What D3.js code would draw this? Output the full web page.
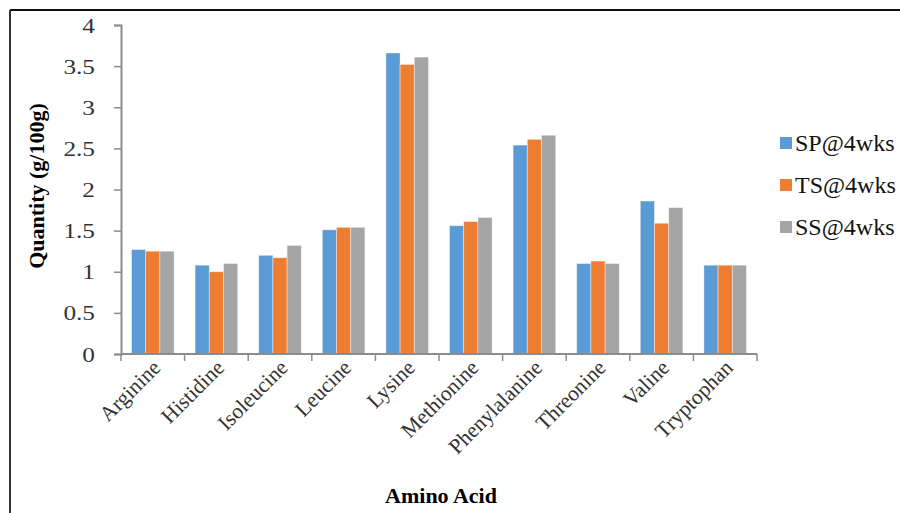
<!DOCTYPE html>
<html>
<head>
<meta charset="utf-8">
<script src="https://cdn.jsdelivr.net/npm/d3@7/dist/d3.min.js"></script>
<style>
  html, body { margin: 0; padding: 0; background: #fff; }
  svg { display: block; }
</style>
</head>
<body>
<svg id="chart" width="900" height="513"></svg>
<script>
// Amino acid content of the three samples, g/100g
const aminoAcids = ["Arginine", "Histidine", "Isoleucine", "Leucine", "Lysine",
                    "Methionine", "Phenylalanine", "Threonine", "Valine", "Tryptophan"];
const seriesNames = ["SP@4wks", "TS@4wks", "SS@4wks"];
const spValues = [1.27, 1.08, 1.20, 1.51, 3.66, 1.56, 2.54, 1.10, 1.86, 1.08];
const tsValues = [1.25, 1.00, 1.17, 1.54, 3.52, 1.61, 2.61, 1.13, 1.59, 1.08];
const ssValues = [1.25, 1.10, 1.32, 1.54, 3.61, 1.66, 2.66, 1.10, 1.78, 1.08];
const yTicks = [0, 0.5, 1, 1.5, 2, 2.5, 3, 3.5, 4];
const seriesColors = ["#5B9BD5", "#ED7D31", "#A5A5A5"];

const FONT = "'Liberation Serif', 'Times New Roman', serif";

const seriesValues = [spValues, tsValues, ssValues];
const rows = aminoAcids.map((name, i) => ({
  name,
  values: seriesNames.map((s, k) => ({ series: s, value: seriesValues[k][i], k }))
}));

const svg = d3.select("#chart");

// outer frame (top and left edges)
svg.append("line").attr("x1", 10).attr("x2", 900).attr("y1", 10).attr("y2", 10)
  .attr("stroke", "#111").attr("stroke-width", 2);
svg.append("line").attr("x1", 10).attr("x2", 10).attr("y1", 10).attr("y2", 513)
  .attr("stroke", "#333").attr("stroke-width", 2);

const plot = { left: 121, right: 757, top: 25, bottom: 354 };

const x = d3.scaleBand().domain(aminoAcids).range([plot.left, plot.right]).padding(0);
const xInner = d3.scaleBand().domain(seriesNames)
  .range([x.bandwidth() * 0.165, x.bandwidth() * 0.835]).padding(0);
const y = d3.scaleLinear().domain([0, 4]).range([plot.bottom, plot.top]);

// bars
const groups = svg.append("g").selectAll("g").data(rows).join("g")
  .attr("transform", d => `translate(${x(d.name)},0)`);
groups.selectAll("rect").data(d => d.values).join("rect")
  .attr("x", d => xInner(d.series))
  .attr("y", d => y(d.value))
  .attr("width", xInner.bandwidth())
  .attr("height", d => y(0) - y(d.value))
  .attr("fill", d => seriesColors[d.k])
  .attr("stroke", "#ffffff")
  .attr("stroke-opacity", 0.5)
  .attr("stroke-width", 0.8);

// y axis; tick numbers are set slightly wide
const yAxis = svg.append("g")
  .attr("transform", `translate(${plot.left},0)`)
  .call(d3.axisLeft(y).tickValues(yTicks).tickSize(7).tickPadding(19)
    .tickFormat(d3.format("")));
yAxis.select(".domain").attr("stroke", "#8c8c8c").attr("stroke-width", 2);
yAxis.selectAll(".tick line").attr("stroke", "#8c8c8c").attr("stroke-width", 1.5);
yAxis.selectAll(".tick text")
  .attr("x", 0)
  .attr("transform", "translate(-26,0) scale(1.15,1)")
  .style("font-family", FONT)
  .style("font-size", "22px").attr("fill", "#333");

// x axis with ticks on band edges
const xAxisG = svg.append("g").attr("transform", `translate(0,${plot.bottom})`);
xAxisG.append("line").attr("x1", plot.left).attr("x2", plot.right)
  .attr("y1", 0).attr("y2", 0).attr("stroke", "#8c8c8c").attr("stroke-width", 2);
const edges = aminoAcids.map(a => x(a)).concat([plot.right]);
xAxisG.selectAll("line.edge").data(edges).join("line").attr("class", "edge")
  .attr("x1", d => d).attr("x2", d => d).attr("y1", 0).attr("y2", 7)
  .attr("stroke", "#8c8c8c").attr("stroke-width", 1.5);
xAxisG.selectAll("text").data(aminoAcids).join("text")
  .attr("transform", d => `translate(${x(d) + x.bandwidth() / 2 + 9},15) rotate(-45)`)
  .attr("text-anchor", "end")
  .style("font-family", FONT)
  .style("font-size", "21.5px")
  .attr("fill", "#333")
  .text(d => d);

// axis titles
svg.append("text")
  .attr("transform", "translate(44,186) rotate(-90)")
  .attr("text-anchor", "middle")
  .style("font-family", FONT)
  .style("font-size", "22px").style("font-weight", "bold").attr("fill", "#000")
  .text("Quantity (g/100g)");
svg.append("text")
  .attr("x", 441).attr("y", 503)
  .attr("text-anchor", "middle")
  .style("font-family", FONT)
  .style("font-size", "22px").style("font-weight", "bold").attr("fill", "#000")
  .text("Amino Acid");

// legend
const legend = svg.append("g").selectAll("g").data(seriesNames).join("g")
  .attr("transform", (d, i) => `translate(780,${143 + i * 42})`);
legend.append("rect").attr("x", 0).attr("y", -6).attr("width", 12).attr("height", 12)
  .attr("fill", (d, i) => seriesColors[i]);
legend.append("text").attr("x", 15).attr("y", 0).attr("dy", "0.35em")
  .style("font-family", FONT)
  .style("font-size", "24px").attr("fill", "#111")
  .text(d => d);
</script>
</body>
</html>
